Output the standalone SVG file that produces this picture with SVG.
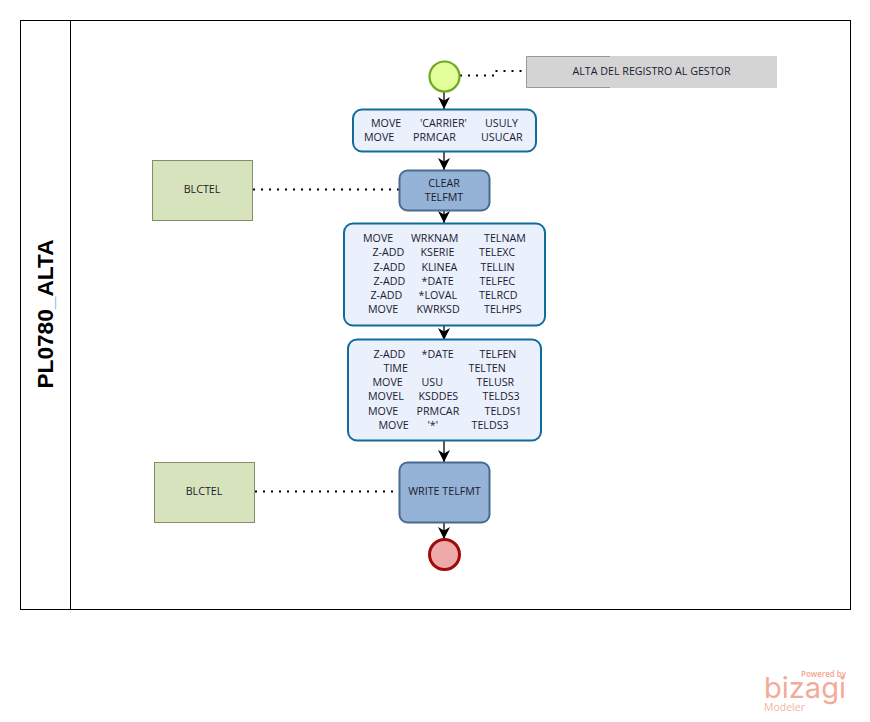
<svg xmlns="http://www.w3.org/2000/svg" width="870" height="722" viewBox="0 0 870 722">
<defs>
<marker id="arrow" markerUnits="userSpaceOnUse" markerWidth="14" markerHeight="12" refX="12" refY="6" orient="auto">
<path d="M0 0 L12 6 L0 12 L3.5 6 Z" fill="#000"/>
</marker>
</defs>
<style>
text{font-family:"Open Sans","Noto Sans","Liberation Sans",sans-serif;font-size:10.7px;fill:#1a1a2e}
.c{text-anchor:middle}
.flow{fill:none;stroke:#000;stroke-width:1.3;marker-end:url(#arrow)}
.assoc{fill:none;stroke:#000;stroke-width:2;stroke-dasharray:2 6}
.task{fill:#ebf0fd;stroke:#0f6c9b;stroke-width:2}
.sub{fill:#95b3d7;stroke:#4a6a92;stroke-width:2}
.data{fill:#d7e3bc;stroke:#858d69;stroke-width:1}
.lane{fill:none;stroke:#000;stroke-width:1}
</style>
<rect width="870" height="722" fill="#fff"/>
<g id="pool">
<rect class="lane" x="20.500" y="20.500" width="830" height="589"/>
<line class="lane" x1="70.500" y1="20" x2="70.500" y2="609"/>
<text transform="translate(53 314) rotate(-90)" class="c" style="font-family:'Liberation Sans',sans-serif;font-size:22.7px;font-weight:700;fill:#000">PL0780<tspan fill="#7fb4e0">_</tspan>ALTA</text>
</g>
<g id="connectors">
<path class="flow" d="M444 92V109"/>
<path class="flow" d="M444 151V170"/>
<path class="flow" d="M444 211V223"/>
<path class="flow" d="M444 326V340"/>
<path class="flow" d="M444 441V462"/>
<path class="flow" d="M444 523V539"/>
<path class="assoc" d="M460 75.500H494V71H526"/>
<path class="assoc" d="M253 189.500H399"/>
<path class="assoc" d="M255 491.500H399"/>
</g>
<g id="start">
<circle cx="444.500" cy="76.500" r="15" fill="#e3ff9b" stroke="#6fa91f" stroke-width="2.200"/>
</g>
<g id="annotation">
<rect x="526.500" y="56" width="250.500" height="32" fill="#d4d4d4"/>
<path d="M610 56.500H526.500V87.500H610" fill="none" stroke="#999" stroke-width="1"/>
<text class="c" x="651.500" y="75">ALTA DEL REGISTRO AL GESTOR</text>
</g>
<g id="task1">
<rect class="task" x="353" y="109.500" width="183" height="42" rx="9"/>
<text y="127"><tspan x="371">MOVE</tspan><tspan x="420">'CARRIER'</tspan><tspan x="485">USULY</tspan></text>
<text y="141"><tspan x="364">MOVE</tspan><tspan x="413">PRMCAR</tspan><tspan x="481">USUCAR</tspan></text>
</g>
<g id="clear">
<rect class="sub" x="399.500" y="170.500" width="90" height="40" rx="8"/>
<text class="c" x="444" y="187">CLEAR</text>
<text class="c" x="444" y="201">TELFMT</text>
</g>
<g id="blctel1">
<rect class="data" x="152.500" y="160.500" width="100" height="60"/>
<text class="c" x="202" y="193">BLCTEL</text>
</g>
<g id="task2">
<rect class="task" x="344" y="223.500" width="201" height="102" rx="9"/>
<text y="242"><tspan x="363">MOVE</tspan><tspan x="411">WRKNAM</tspan><tspan x="484">TELNAM</tspan></text>
<text y="256"><tspan x="372.500">Z-ADD</tspan><tspan x="420.500">KSERIE</tspan><tspan x="479">TELEXC</tspan></text>
<text y="271"><tspan x="373.500">Z-ADD</tspan><tspan x="421.500">KLINEA</tspan><tspan x="480.500">TELLIN</tspan></text>
<text y="285"><tspan x="373.500">Z-ADD</tspan><tspan x="421.500">*DATE</tspan><tspan x="479.500">TELFEC</tspan></text>
<text y="299"><tspan x="370.500">Z-ADD</tspan><tspan x="418.500">*LOVAL</tspan><tspan x="479">TELRCD</tspan></text>
<text y="313"><tspan x="368">MOVE</tspan><tspan x="416.500">KWRKSD</tspan><tspan x="484">TELHPS</tspan></text>
</g>
<g id="task3">
<rect class="task" x="348" y="339.500" width="193" height="101" rx="9"/>
<text y="358"><tspan x="373.500">Z-ADD</tspan><tspan x="421.500">*DATE</tspan><tspan x="479.500">TELFEN</tspan></text>
<text y="372"><tspan x="383.500">TIME</tspan><tspan x="468.500">TELTEN</tspan></text>
<text y="386"><tspan x="372.500">MOVE</tspan><tspan x="421.500">USU</tspan><tspan x="476.500">TELUSR</tspan></text>
<text y="400"><tspan x="368">MOVEL</tspan><tspan x="418.500">KSDDES</tspan><tspan x="482.500">TELDS3</tspan></text>
<text y="415"><tspan x="368">MOVE</tspan><tspan x="416.500">PRMCAR</tspan><tspan x="484.500">TELDS1</tspan></text>
<text y="429"><tspan x="378.500">MOVE</tspan><tspan x="427.500">'*'</tspan><tspan x="471.500">TELDS3</tspan></text>
</g>
<g id="write">
<rect class="sub" x="399.500" y="462.500" width="90" height="60" rx="8"/>
<text class="c" x="444.500" y="495">WRITE TELFMT</text>
</g>
<g id="blctel2">
<rect class="data" x="154.500" y="462.500" width="100" height="60"/>
<text class="c" x="204" y="495">BLCTEL</text>
</g>
<g id="end">
<circle cx="444.500" cy="554.500" r="15" fill="#eea9a9" stroke="#a10a0a" stroke-width="3"/>
</g>
<g id="logo">
<text x="801" y="677" style="font-size:8px;fill:#f3a58f;font-weight:600" textLength="45" lengthAdjust="spacingAndGlyphs">Powered by</text>
<text x="764" y="698" style="font-size:29px;font-weight:400;fill:#f3ab98;font-family:'Inter','Open Sans',sans-serif" textLength="82" lengthAdjust="spacingAndGlyphs">bizagi</text>
<text x="764" y="711" style="font-size:10.500px;fill:#f2b6a6">Modeler</text>
</g>
</svg>
